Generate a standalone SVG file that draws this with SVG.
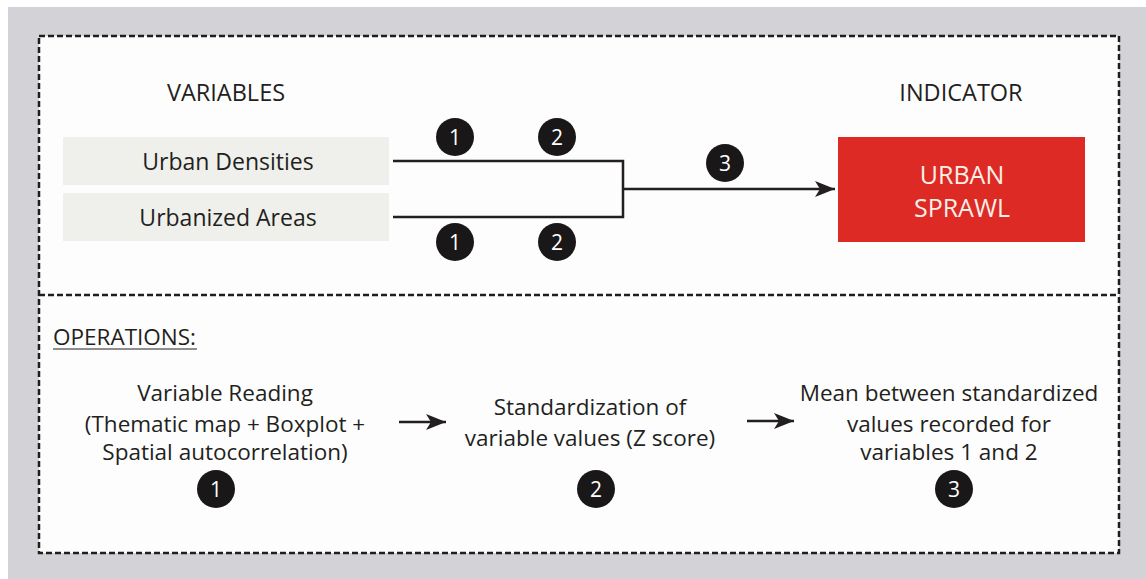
<svg xmlns="http://www.w3.org/2000/svg" width="1146" height="579" viewBox="0 0 1146 579">
<defs>
<style>
.t{font-family:"Open Sans","Liberation Sans",sans-serif;fill:#231f20;}
.h{font-size:23.5px;}
.v{font-size:23px;}
.o{font-size:22.5px;}
.n{font-family:"Open Sans","Liberation Sans",sans-serif;font-size:21px;fill:#fff;text-anchor:middle;}
.dash{fill:none;stroke:#1e1e1e;stroke-width:2.5;stroke-dasharray:6 3;}
.ln{fill:none;stroke:#231f20;stroke-width:2.5;}
.c{fill:#1a1718;}
</style>
<marker id="ah2" viewBox="0 0 20 16" refX="20" refY="8" markerWidth="20" markerHeight="16" markerUnits="userSpaceOnUse" orient="auto">
<path d="M0,0 L20,8 L0,16 L5,8 Z" fill="#231f20"/>
</marker>
</defs>
<rect x="0" y="0" width="1146" height="579" fill="#ffffff"/>
<rect x="8" y="7" width="1138" height="572" fill="#d3d3d7"/>
<rect x="39" y="36" width="1080" height="517" fill="#fdfdfd"/>
<g id="frame">
<rect class="dash" x="39" y="36" width="1080" height="517"/>
<line class="dash" x1="39" y1="295" x2="1119" y2="295"/>
</g>
<g id="headers">
<text class="t h" x="226" y="101" text-anchor="middle">VARIABLES</text>
<text class="t h" x="961" y="101" text-anchor="middle">INDICATOR</text>
</g>
<g id="var-urban-densities">
<rect x="63" y="137" width="326" height="48" fill="#efefeb"/>
<text class="t v" x="228" y="170" text-anchor="middle">Urban Densities</text>
</g>
<g id="var-urbanized-areas">
<rect x="63" y="193" width="326" height="48" fill="#efefeb"/>
<text class="t v" x="228" y="226" text-anchor="middle">Urbanized Areas</text>
</g>
<g id="indicator-urban-sprawl">
<rect x="838" y="137" width="247" height="105" fill="#dd2a24"/>
<text x="962" y="184" text-anchor="middle" font-family="Open Sans, Liberation Sans, sans-serif" font-size="25" fill="#fbefe9">URBAN</text>
<text x="962" y="217" text-anchor="middle" font-family="Open Sans, Liberation Sans, sans-serif" font-size="25" fill="#fbefe9">SPRAWL</text>
</g>
<g id="connectors">
<path class="ln" d="M393,161 H623 V217 H393"/>
<line class="ln" x1="623" y1="189" x2="835" y2="189" marker-end="url(#ah2)"/>
<line class="ln" x1="399" y1="422" x2="446" y2="422" marker-end="url(#ah2)"/>
<line class="ln" x1="747" y1="421" x2="794" y2="421" marker-end="url(#ah2)"/>
</g>
<g id="step-badges">
<circle class="c" cx="455" cy="137" r="19"/><text class="n" x="455" y="144.5">1</text>
<circle class="c" cx="557" cy="137" r="19"/><text class="n" x="557" y="144.5">2</text>
<circle class="c" cx="455" cy="242" r="19"/><text class="n" x="455" y="249.5">1</text>
<circle class="c" cx="557" cy="242" r="19"/><text class="n" x="557" y="249.5">2</text>
<circle class="c" cx="725" cy="163" r="19"/><text class="n" x="725" y="170.5">3</text>
</g>
<g id="operations-title">
<text class="t o" x="53" y="345">OPERATIONS:</text>
<line x1="53" y1="349" x2="197" y2="349" stroke="#231f20" stroke-width="1.2"/>
</g>
<g id="op-1">
<text class="t o" text-anchor="middle" x="225" y="401">Variable Reading</text>
<text class="t o" text-anchor="middle" x="225" y="432">(Thematic map + Boxplot +</text>
<text class="t o" text-anchor="middle" x="225" y="460">Spatial autocorrelation)</text>
<circle class="c" cx="216" cy="489" r="19"/><text class="n" x="216" y="496.5">1</text>
</g>
<g id="op-2">
<text class="t o" text-anchor="middle" x="590" y="415">Standardization of</text>
<text class="t o" text-anchor="middle" x="590" y="446">variable values (Z score)</text>
<circle class="c" cx="596" cy="489" r="19"/><text class="n" x="596" y="496.5">2</text>
</g>
<g id="op-3">
<text class="t o" text-anchor="middle" x="949" y="401">Mean between standardized</text>
<text class="t o" text-anchor="middle" x="949" y="432">values recorded for</text>
<text class="t o" text-anchor="middle" x="949" y="460">variables 1 and 2</text>
<circle class="c" cx="954" cy="489" r="19"/><text class="n" x="954" y="496.5">3</text>
</g>
</svg>
